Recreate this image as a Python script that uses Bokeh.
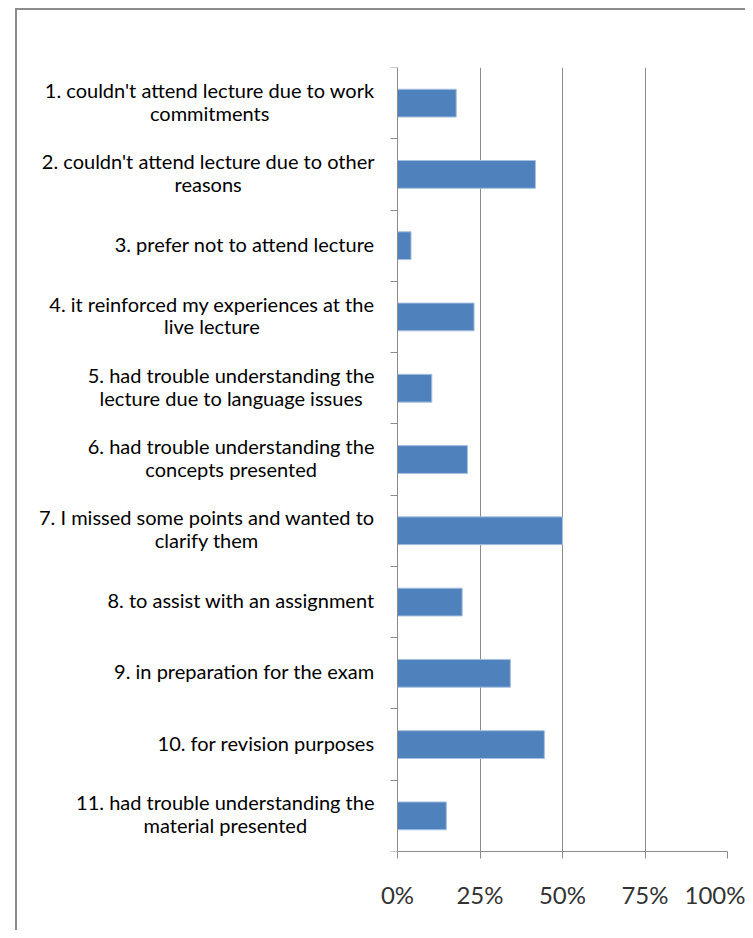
from bokeh.plotting import figure
from bokeh.models import FixedTicker, Range1d
from bokeh.embed import file_html
from bokeh.resources import INLINE

labels = [
    "1. couldn't attend lecture due to work\ncommitments",
    "2. couldn't attend lecture due to other\nreasons",
    "3. prefer not to attend lecture",
    "4. it reinforced my experiences at the\nlive lecture",
    "5. had trouble understanding the\nlecture due to language issues",
    "6. had trouble understanding the\nconcepts presented",
    "7. I missed some points and wanted to\nclarify them",
    "8. to assist with an assignment",
    "9. in preparation for the exam",
    "10. for revision purposes",
    "11. had trouble understanding the\nmaterial presented",
]
values = [17.8, 41.8, 4.1, 23.2, 10.4, 21.2, 50.0, 19.6, 34.2, 44.5, 14.8]
x_ticks = [0, 25, 50, 75, 100]
x_tick_labels = ["0%", "25%", "50%", "75%", "100%"]

n = len(labels)
centers = [i + 0.5 for i in range(n)]

# frame spans the label area too, so the labels (text glyphs) are not clipped
px_per_unit = 3.3
label_area_px = 380
p = figure(
    width=728, height=920,
    frame_width=710, frame_height=784,
    min_border_left=0, min_border_right=18,
    min_border_top=57, min_border_bottom=79,
    x_range=Range1d(-label_area_px / px_per_unit, 100), y_range=Range1d(n, 0),
    output_backend="svg", toolbar_location=None,
)
p.styles = {
    "border-left": "2px solid #8c8c8c",
    "border-top": "2px solid #8c8c8c",
    "margin-top": "8px",
    "margin-left": "15px",
}
p.outline_line_color = None
p.background_fill_color = "white"
p.border_fill_color = "white"

p.hbar(y=centers, left=0, right=values, height=0.39,
       fill_color="#4F81BD", line_color="#A7C0DE", line_width=1)

# x axis
xa = p.xaxis[0]
xa.ticker = FixedTicker(ticks=x_ticks)
xa.bounds = (0, 100)
xa.major_label_overrides = {t: l for t, l in zip(x_ticks, x_tick_labels)}
xa.axis_line_color = "#8c8c8c"
xa.major_tick_line_color = "#8c8c8c"
xa.major_tick_out = 7
xa.major_tick_in = 0
xa.minor_tick_line_color = None
xa.major_label_text_font = "Lato"
xa.major_label_text_font_size = "24px"
xa.major_label_text_color = "#333333"
xa.major_label_standoff = 21

# y axis at x = 0
ya = p.yaxis[0]
ya.fixed_location = 0
ya.ticker = FixedTicker(ticks=centers, minor_ticks=list(range(n + 1)))
ya.axis_line_color = "#8c8c8c"
ya.major_tick_line_color = None
ya.major_tick_out = 0
ya.major_tick_in = 0
ya.minor_tick_line_color = "#8c8c8c"
ya.minor_tick_out = 7
ya.minor_tick_in = 0
ya.major_label_text_font_size = "0px"
ya.major_label_text_color = None

p.xgrid.ticker = FixedTicker(ticks=x_ticks[1:])
p.xgrid.grid_line_color = "#8c8c8c"
p.ygrid.visible = False

# category labels: block right-aligned next to the axis, lines centred
p.text(x=[0] * n, y=centers, text=labels, x_offset=-23, y_offset=-2,
       text_align="center", anchor="center_right", text_baseline="middle",
       text_font_size="20px", text_color="#000000", text_line_height=0.95,
       text_font={"value": "Lato"})

open("out.html", "w").write(file_html(p, INLINE))
